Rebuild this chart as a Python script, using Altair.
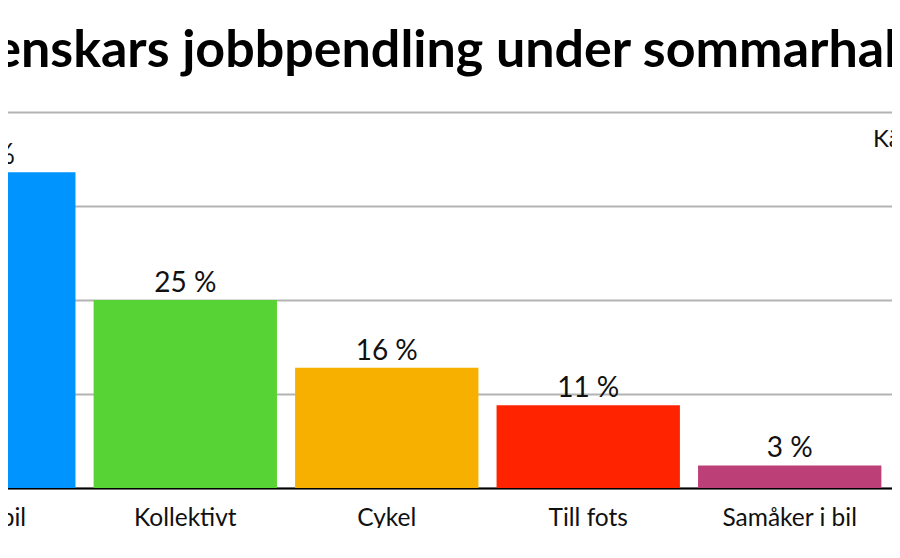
import altair as alt
import pandas as pd

categories = ["Egen bil", "Kollektivt", "Cykel", "Till fots", "Samåker i bil", "Kombinerat resande"]
values = [42, 25, 16, 11, 3, 3]
colors = ["#0094FF", "#58D335", "#F7B000", "#FF2300", "#BC3F78", "#8C8C8C"]
title_text = "Svenskars jobbpendling under sommarhalvåret"
source_text = ["Källa: Trafikanalys"]
y_ticks = [0, 12.5, 25, 37.5, 50]

df = pd.DataFrame({"kat": categories, "v": values})
src = pd.DataFrame({"t": source_text})

W, H = 1231, 376

x_enc = alt.X(
    "kat:N",
    sort=None,
    scale=alt.Scale(paddingInner=0.09, paddingOuter=0.1),
    axis=alt.Axis(
        title=None,
        ticks=False,
        labelPadding=18,
        labelFontSize=24.5,
        labelFont="Lato",
        labelColor="#111111",
        labelAngle=0,
        domainColor="#000000",
        domainWidth=2,
        grid=False,
    ),
)
y_enc = alt.Y(
    "v:Q",
    scale=alt.Scale(domain=[0, 50], nice=False),
    axis=alt.Axis(
        title=None,
        values=y_ticks,
        labels=False,
        ticks=False,
        domain=False,
        grid=True,
        gridColor="#B3B3B3",
        gridWidth=2,
    ),
)

bars = alt.Chart(df).mark_bar().encode(
    x=x_enc,
    y=y_enc,
    color=alt.Color("kat:N", sort=None, scale=alt.Scale(domain=categories, range=colors), legend=None),
)

labels = alt.Chart(df).transform_calculate(lbl="datum.v + ' %'").mark_text(
    font="Lato", fontSize=28, color="#111111", baseline="alphabetic", dy=-8
).encode(x=alt.X("kat:N", sort=None), y="v:Q", text="lbl:N")

source = alt.Chart(src).mark_text(
    font="Lato", fontSize=24, color="#111111", align="left", baseline="alphabetic"
).encode(x=alt.value(1001), y=alt.value(35), text="t:N")

chart = alt.layer(bars, labels, source).properties(
    width=W,
    height=H,
    title=alt.TitleParams(
        title_text, font="Lato", fontSize=52, fontWeight="bold", color="#000000",
        anchor="middle", frame="group", baseline="alphabetic", offset=3, dx=-10, dy=10,
    ),
    autosize=alt.AutoSizeParams(type="none"),
    padding={"left": -136, "top": 104, "right": -211, "bottom": 40},
    background="white",
).configure_view(stroke=None)

chart.save("out.html", embed_options={"renderer": "svg", "actions": False})
